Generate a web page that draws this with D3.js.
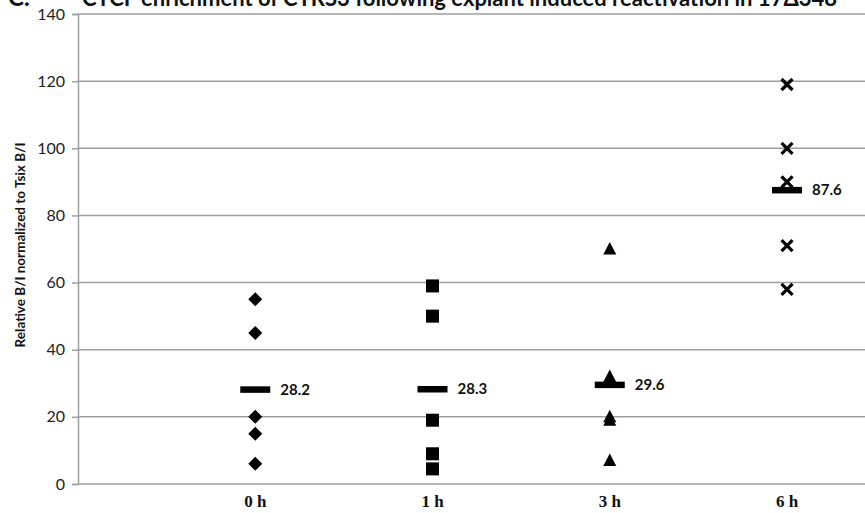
<!DOCTYPE html>
<html>
<head>
<meta charset="utf-8">
<script src="https://cdn.jsdelivr.net/npm/d3@7"></script>
<style>
  html, body { margin: 0; padding: 0; background: #fff; }
  svg { display: block; }
</style>
</head>
<body>
<svg id="chart" width="865" height="513"></svg>
<script>
// Time points after explant and their x positions on the numeric axis
const categories = ["0 h", "1 h", "3 h", "6 h"];
const xPositions = [1, 2, 3, 4];

// Individual replicate measurements per time point
const values0h = [55, 45, 20, 15, 6];
const values1h = [59, 50, 19, 9, 4.5];
const values3h = [70, 32, 20, 19, 7];
const values6h = [119, 100, 90, 71, 58];

// Mean of each time point
const means = [28.2, 28.3, 29.6, 87.6];

const yTicks = [0, 20, 40, 60, 80, 100, 120, 140];

const title = "CTCF enrichment of CTRS3 following explant induced reactivation in 17\u0394348";
const panelLetter = "C.";
const yTitle = "Relative B/I normalized to Tsix B/I";

const svg = d3.select("#chart");
const plotLeft = 78, plotTop = 14, plotBottom = 484, plotRight = 865;

const x = d3.scaleLinear().domain([0, 4.44]).range([plotLeft, plotRight]);
const y = d3.scaleLinear().domain([0, 140]).range([plotBottom, plotTop]);

const gridColor = "#9e9e9e";
const sans = "Lato, 'Open Sans', sans-serif";

// Horizontal gridlines
svg.append("g")
  .selectAll("line")
  .data(yTicks)
  .join("line")
  .attr("x1", plotLeft).attr("x2", plotRight)
  .attr("y1", d => y(d)).attr("y2", d => y(d))
  .attr("stroke", gridColor)
  .attr("stroke-width", 1.5);

// Y axis with tick labels
const yAxis = d3.axisLeft(y)
  .tickValues(yTicks)
  .tickSize(6)
  .tickFormat(d3.format("d"));
const gy = svg.append("g").attr("transform", `translate(${plotLeft},0)`).call(yAxis);
gy.select(".domain").attr("stroke", gridColor).attr("stroke-width", 1.5);
gy.selectAll(".tick line").attr("stroke", gridColor).attr("stroke-width", 1.5);
gy.selectAll(".tick text")
  .attr("x", -13)
  .attr("fill", "#222")
  .style("font-family", sans)
  .style("font-size", "16px");

// Category labels along the bottom
svg.append("g")
  .selectAll("text")
  .data(categories)
  .join("text")
  .attr("x", (d, i) => x(xPositions[i]))
  .attr("y", 507)
  .attr("text-anchor", "middle")
  .style("font-family", "'Liberation Serif', 'Times New Roman', serif")
  .style("font-weight", "bold")
  .style("font-size", "17px")
  .attr("fill", "#111")
  .text(d => d);

// Y axis title
svg.append("text")
  .attr("transform", `translate(25,${(plotTop + plotBottom) / 2 - 4}) rotate(-90)`)
  .attr("text-anchor", "middle")
  .style("font-family", sans)
  .style("font-weight", "bold")
  .style("font-size", "13.5px")
  .attr("fill", "#111")
  .text(yTitle);

// Title (sits against the top edge)
svg.append("text")
  .attr("x", 82)
  .attr("y", 6)
  .attr("textLength", 755)
  .attr("lengthAdjust", "spacing")
  .style("font-family", sans)
  .style("font-weight", "bold")
  .style("font-size", "22px")
  .attr("fill", "#111")
  .text(title);
svg.append("text")
  .attr("x", 8)
  .attr("y", 6)
  .style("font-family", sans)
  .style("font-weight", "bold")
  .style("font-size", "24px")
  .attr("fill", "#111")
  .text(panelLetter);

// Mean bars with value labels
const meanG = svg.append("g");
meanG.selectAll("rect")
  .data(means)
  .join("rect")
  .attr("x", (d, i) => x(xPositions[i]) - 15)
  .attr("y", d => y(d) - 3)
  .attr("width", 30)
  .attr("height", 6.5)
  .attr("fill", "#000");
meanG.selectAll("text")
  .data(means)
  .join("text")
  .attr("x", (d, i) => x(xPositions[i]) + 25)
  .attr("y", d => y(d))
  .attr("dy", "0.36em")
  .style("font-family", sans)
  .style("font-weight", "bold")
  .style("font-size", "15px")
  .attr("fill", "#111")
  .text(d => d.toFixed(1));

// Replicate markers: diamonds, squares, triangles, crosses
const series = [
  { values: values0h, xv: xPositions[0], shape: "diamond" },
  { values: values1h, xv: xPositions[1], shape: "square" },
  { values: values3h, xv: xPositions[2], shape: "triangle" },
  { values: values6h, xv: xPositions[3], shape: "cross" }
];

const shapePath = {
  diamond: "M0,-7L7,0L0,7L-7,0Z",
  square: "M-6.5,-6.5H6.5V6.5H-6.5Z",
  triangle: "M0,-7L6.5,5.5L-6.5,5.5Z",
  cross: "M-5.5,-5.5L5.5,5.5M5.5,-5.5L-5.5,5.5"
};

series.forEach(s => {
  svg.append("g")
    .selectAll("path")
    .data(s.values)
    .join("path")
    .attr("transform", d => `translate(${x(s.xv)},${y(d)})`)
    .attr("d", shapePath[s.shape])
    .attr("fill", s.shape === "cross" ? "none" : "#000")
    .attr("stroke", s.shape === "cross" ? "#000" : "none")
    .attr("stroke-width", s.shape === "cross" ? 3.2 : 0);
});
</script>
</body>
</html>
